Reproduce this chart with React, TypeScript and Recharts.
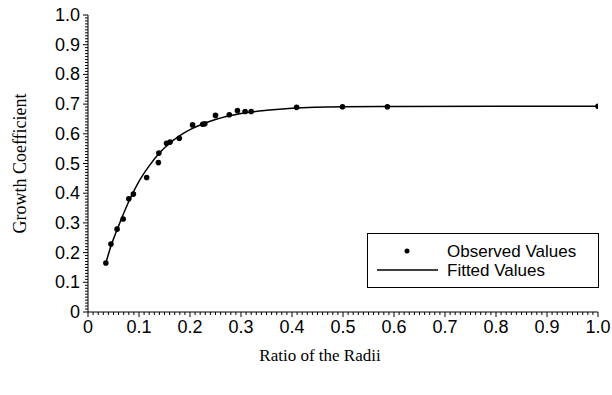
import React from "react";
import { ComposedChart, Line, Scatter, XAxis, YAxis } from "recharts";

// observed points (ratio of radii, growth coefficient)
const observedX = [
  0.035, 0.045, 0.057, 0.069, 0.08, 0.089, 0.115, 0.138, 0.139, 0.154, 0.161,
  0.179, 0.205, 0.225, 0.229, 0.25, 0.277, 0.293, 0.308, 0.32, 0.409, 0.499,
  0.587, 1.0,
];
const observedY = [
  0.165, 0.229, 0.279, 0.313, 0.381, 0.397, 0.453, 0.503, 0.535, 0.568, 0.572,
  0.585, 0.63, 0.632, 0.634, 0.662, 0.664, 0.678, 0.675, 0.675, 0.689, 0.691,
  0.691, 0.693,
];

// fitted curve
const fittedX = [
  0.035, 0.045, 0.06, 0.08, 0.1, 0.12, 0.14, 0.16, 0.18, 0.2, 0.225, 0.25, 0.3,
  0.35, 0.4, 0.5, 0.6, 0.8, 1.0,
];
const fittedY = [
  0.165, 0.222, 0.29, 0.372, 0.44, 0.492, 0.535, 0.568, 0.594, 0.614, 0.633,
  0.648, 0.668, 0.679, 0.686, 0.691, 0.692, 0.693, 0.693,
];

const majorTicks = [0, 0.1, 0.2, 0.3, 0.4, 0.5, 0.6, 0.7, 0.8, 0.9, 1.0];
const minorTicks = Array.from({ length: 101 }, (_, i) => i / 100);
const legendLabels = ["Observed Values", "Fitted Values"];

const observed = observedX.map((x, i) => ({ x, y: observedY[i] }));
const fitted = fittedX.map((x, i) => ({ x, y: fittedY[i] }));

const isMajor = (v: number) => majorTicks.some((m) => Math.abs(m - v) < 1e-6);
const fmt = (v: number) => (v === 0 ? "0" : v.toFixed(1));

const labelFont = "Arial, 'Liberation Sans', sans-serif";
const titleFont = "'Times New Roman', 'Liberation Serif', serif";

const XTick = (props: any) => {
  const { x, y, payload } = props;
  const major = isMajor(payload.value);
  return (
    <g>
      <line x1={x} y1={y} x2={x} y2={y + (major ? 5 : 3)} stroke="#000" />
      {major && (
        <text
          x={x}
          y={y + 15}
          textAnchor="middle"
          dominantBaseline="central"
          fontSize={18}
          fontFamily={labelFont}
          fill="#000"
        >
          {fmt(payload.value)}
        </text>
      )}
    </g>
  );
};

const YTick = (props: any) => {
  const { x, y, payload } = props;
  const major = isMajor(payload.value);
  return (
    <g>
      <line x1={x} y1={y} x2={x - (major ? 5 : 3)} y2={y} stroke="#000" />
      {major && (
        <text
          x={x - 8}
          y={y}
          textAnchor="end"
          dominantBaseline="central"
          fontSize={18}
          fontFamily={labelFont}
          fill="#000"
        >
          {fmt(payload.value)}
        </text>
      )}
    </g>
  );
};

const Dot = (props: any) => {
  const { cx, cy } = props;
  return <circle cx={cx} cy={cy} r={2.8} fill="#000" />;
};

const ChartLegend = () => (
  <div
    style={{
      position: "absolute",
      left: 367,
      top: 233,
      width: 230,
      height: 53,
      border: "1px solid #000",
      background: "#fff",
      fontFamily: labelFont,
      fontSize: 17,
      color: "#000",
    }}
  >
    <svg width={230} height={53} style={{ position: "absolute", left: 0, top: 0 }}>
      <circle cx={39} cy={17} r={2.5} fill="#000" />
      <line x1={9} y1={36} x2={70} y2={36} stroke="#000" strokeWidth={1.5} />
    </svg>
    {legendLabels.map((t, i) => (
      <div
        key={t}
        style={{
          position: "absolute",
          left: 79,
          top: 8 + i * 19,
          lineHeight: "19px",
          whiteSpace: "nowrap",
        }}
      >
        {t}
      </div>
    ))}
  </div>
);

export default function App() {
  return (
    <div
      style={{
        position: "absolute",
        left: 0,
        top: 0,
        width: 612,
        height: 395,
        background: "#fff",
      }}
    >
      <ComposedChart
        width={612}
        height={395}
        margin={{ top: 15, right: 14, left: 0, bottom: 0 }}
      >
        <XAxis
          dataKey="x"
          type="number"
          domain={[0, 1]}
          ticks={minorTicks}
          interval={0}
          tickSize={0}
          tickMargin={0}
          tick={<XTick />}
          tickLine={false}
          axisLine={{ stroke: "#000" }}
          height={83}
          allowDataOverflow
          label={{
            value: "Ratio of the Radii",
            position: "insideBottom",
            dx: -23,
            offset: 34,
            style: { fontFamily: titleFont, fontSize: 17, fill: "#000" },
          }}
        />
        <XAxis
          xAxisId="top"
          orientation="top"
          type="number"
          domain={[0, 1]}
          height={0}
          tick={false}
          tickLine={false}
          axisLine={{ stroke: "#888" }}
        />
        <YAxis
          type="number"
          domain={[0, 1]}
          ticks={minorTicks}
          interval={0}
          tickSize={0}
          tickMargin={0}
          tick={<YTick />}
          tickLine={false}
          axisLine={{ stroke: "#000" }}
          width={88}
          allowDataOverflow
          label={{
            value: "Growth Coefficient",
            angle: -90,
            position: "insideLeft",
            offset: 20,
            style: {
              fontFamily: titleFont,
              fontSize: 18,
              fill: "#000",
              textAnchor: "middle",
            },
          }}
        />
        <YAxis
          yAxisId="right"
          orientation="right"
          type="number"
          domain={[0, 1]}
          width={0}
          tick={false}
          tickLine={false}
          axisLine={{ stroke: "#888" }}
        />
        <Line
          data={fitted}
          dataKey="y"
          type="monotone"
          stroke="#000"
          strokeWidth={1.5}
          dot={false}
          activeDot={false}
          isAnimationActive={false}
          legendType="none"
        />
        <Scatter
          data={observed}
          dataKey="y"
          shape={<Dot />}
          isAnimationActive={false}
          legendType="none"
        />
      </ComposedChart>
      <ChartLegend />
    </div>
  );
}
